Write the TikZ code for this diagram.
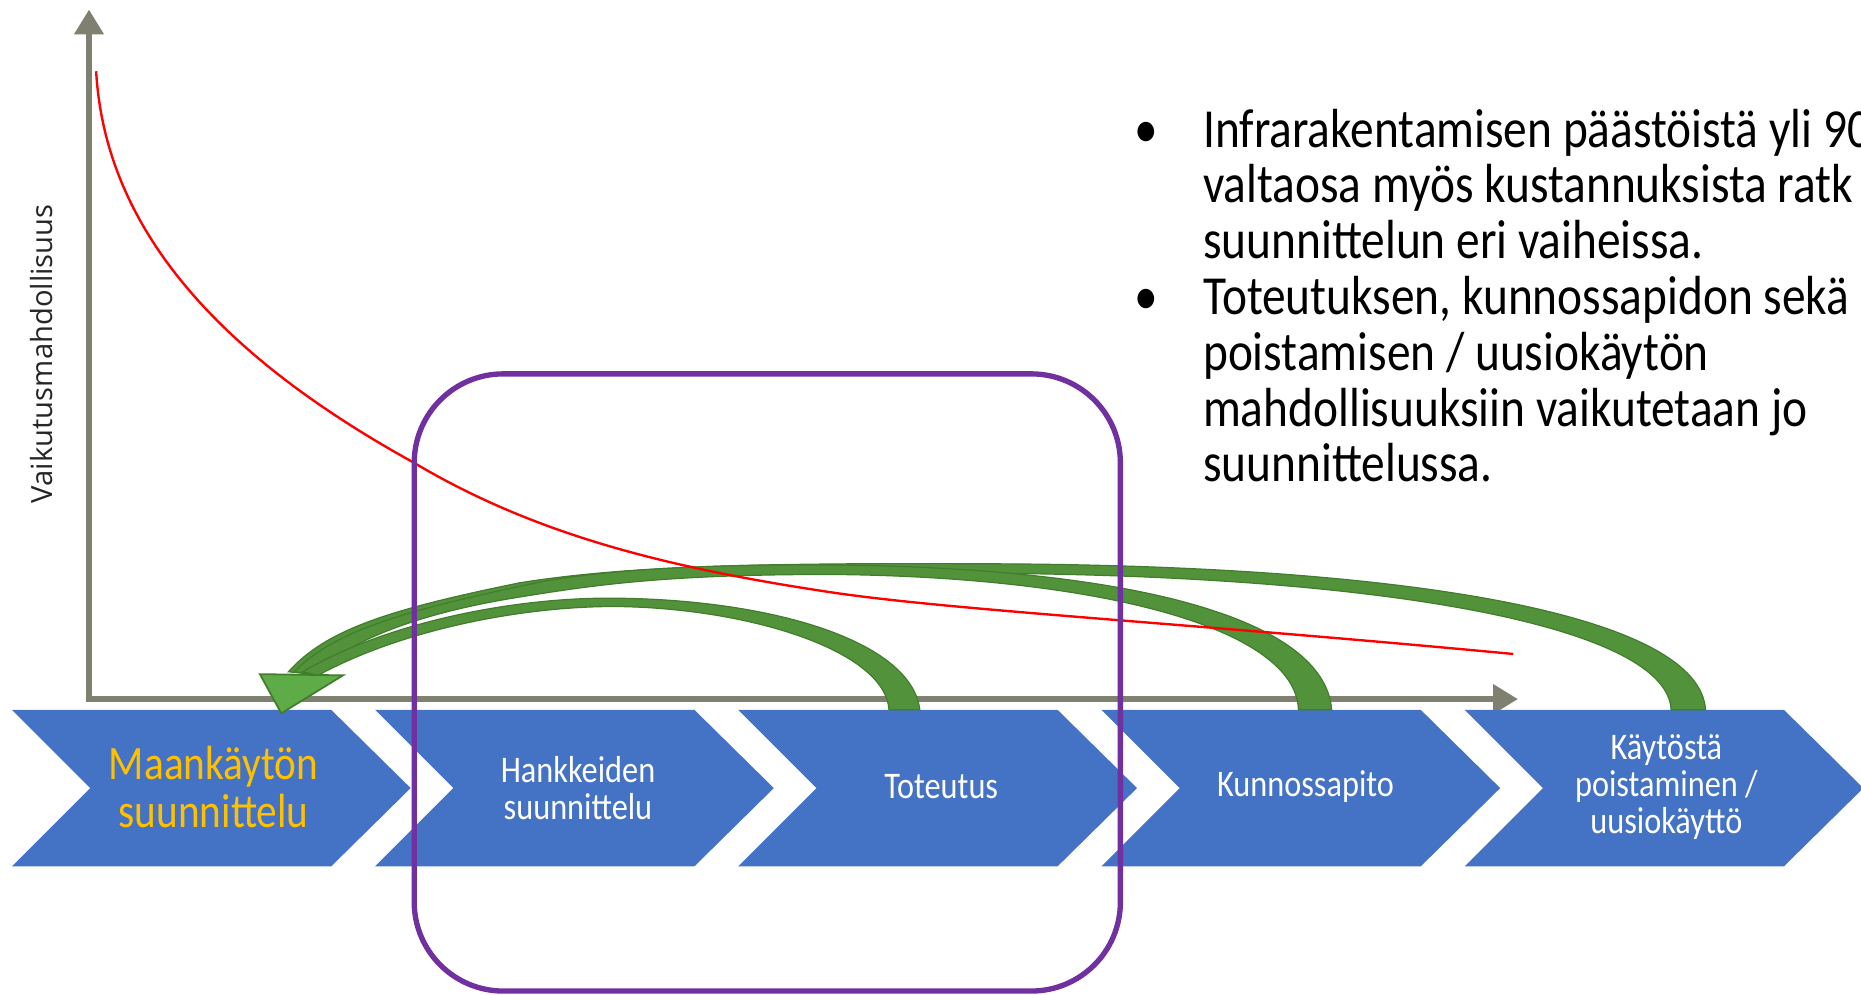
\documentclass[tikz,border=0pt]{standalone}
\usepackage{fontspec}
\setmainfont{Carlito}[FakeStretch=0.86]
\newfontfamily\labelfont{Open Sans}
\usepackage{tikz}
\usepackage{xcolor}
\usetikzlibrary{arrows.meta}

\definecolor{axisgray}{RGB}{128,128,112}
\definecolor{chevblue}{RGB}{68,114,196}
\definecolor{chevgold}{RGB}{255,192,0}
\definecolor{boxpurple}{RGB}{112,48,160}
\definecolor{arcgreen}{RGB}{82,146,58}
\definecolor{arcdark}{RGB}{66,125,45}
\definecolor{headgreen}{RGB}{94,172,72}

\tikzset{
  axisline/.style={axisgray, line width=0.5mm, line join=miter},
  chevtext/.style={text=white, align=center, inner sep=0pt, font=\fontsize{9}{8.9}\selectfont},
  bullettext/.style={anchor=base west, inner sep=0pt, font=\fontsize{13.2}{13.4}\selectfont},
  greenarc/.style={fill=arcgreen, draw=arcdark, line width=0.1mm},
}

\begin{document}
\begin{tikzpicture}[x=0.01cm, y=-0.01cm]

    \useasboundingbox (0,0) rectangle (1568,838);
    \clip (0,0) rectangle (1568,838);

    % Axes
    \draw[axisline, {Triangle[width=2.4mm,length=2.1mm]}-{Triangle[width=2.4mm,length=2.1mm]}]
        (75,8) -- (75,589) -- (1279,589);
    \node[rotate=90, text=black!85, font=\labelfont\fontsize{7}{8}\selectfont] (ylabel) at (35,298) {Vaikutusmahdollisuus};

    % Process chevrons
    \foreach \lx in {10,316,622,928,1234}
        \fill[chevblue] (\lx,598) -- ++(269,0) -- ++(67,66) -- ++(-67,66) -- ++(-269,0) -- ++(66,-66) -- cycle;

    \node[chevtext, text=chevgold, font=\fontsize{11.5}{11.4}\selectfont] (maank) at (180,663) {Maankäytön\\suunnittelu};
    \node[chevtext] (hank) at (487,664) {Hankkeiden\\suunnittelu};
    \node[chevtext] (toteutus) at (793,663) {Toteutus};
    \node[chevtext] (kunn) at (1100,663) {Kunnossapito};
    \node[chevtext] (kaytosta) at (1404,663) {Käytöstä\\poistaminen /\\uusiokäyttö};

    % Feedback arcs back to land use planning
    \filldraw[greenarc] (1437,598) .. controls (1432,520) and (1200,476) .. (830,475)
        .. controls (620,474) and (520,478) .. (438,491)
        .. controls (330,513) and (275,530) .. (243,566)
        -- (262,568) .. controls (290,542) and (345,515) .. (438,499)
        .. controls (520,485) and (620,482) .. (830,483)
        .. controls (1180,485) and (1405,530) .. (1408,598) -- cycle;
    \filldraw[greenarc] (1122,598) .. controls (1116,520) and (950,478) .. (700,476)
        .. controls (560,475) and (480,484) .. (438,494)
        .. controls (335,516) and (280,533) .. (248,566)
        -- (264,568) .. controls (295,540) and (350,517) .. (438,503)
        .. controls (500,493) and (560,484) .. (700,484)
        .. controls (930,486) and (1092,530) .. (1094,598) -- cycle;
    \filldraw[greenarc] (775,598) .. controls (768,540) and (650,505) .. (518,504)
        .. controls (440,503) and (330,522) .. (255,566)
        -- (268,569) .. controls (340,530) and (440,511) .. (518,511)
        .. controls (630,512) and (746,548) .. (749,598) -- cycle;
    \filldraw[fill=headgreen, draw=arcdark, line width=0.15mm] (219,568) -- (289,569) -- (237,601) -- cycle;

    % Curve of influence
    \draw[red, line width=0.2mm] (81,60) .. controls (89,200) and (195,305) .. (349,390)
        .. controls (450,450) and (560,478) .. (700,499)
        .. controls (800,514) and (1000,525) .. (1275,551);

    % Bullet text
    \foreach \txt [count=\i] in {Infrarakentamisen päästöistä yli 90, valtaosa myös kustannuksista ratk,
        suunnittelun eri vaiheissa., {Toteutuksen, kunnossapidon sekä}, poistamisen / uusiokäytön,
        mahdollisuuksiin vaikutetaan jo, suunnittelussa.}
        \node[bullettext] (line\i) at (1013,{124+47*(\i-1)}) {\txt};
    \node[bullettext, anchor=base] (dot1) at (966,124) {•};
    \node[bullettext, anchor=base] (dot2) at (966,265) {•};

    % Planning phase frame
    \draw[boxpurple, line width=0.45mm, rounded corners=7.5mm] (349,315) rectangle (944,835);

\end{tikzpicture}
\end{document}
